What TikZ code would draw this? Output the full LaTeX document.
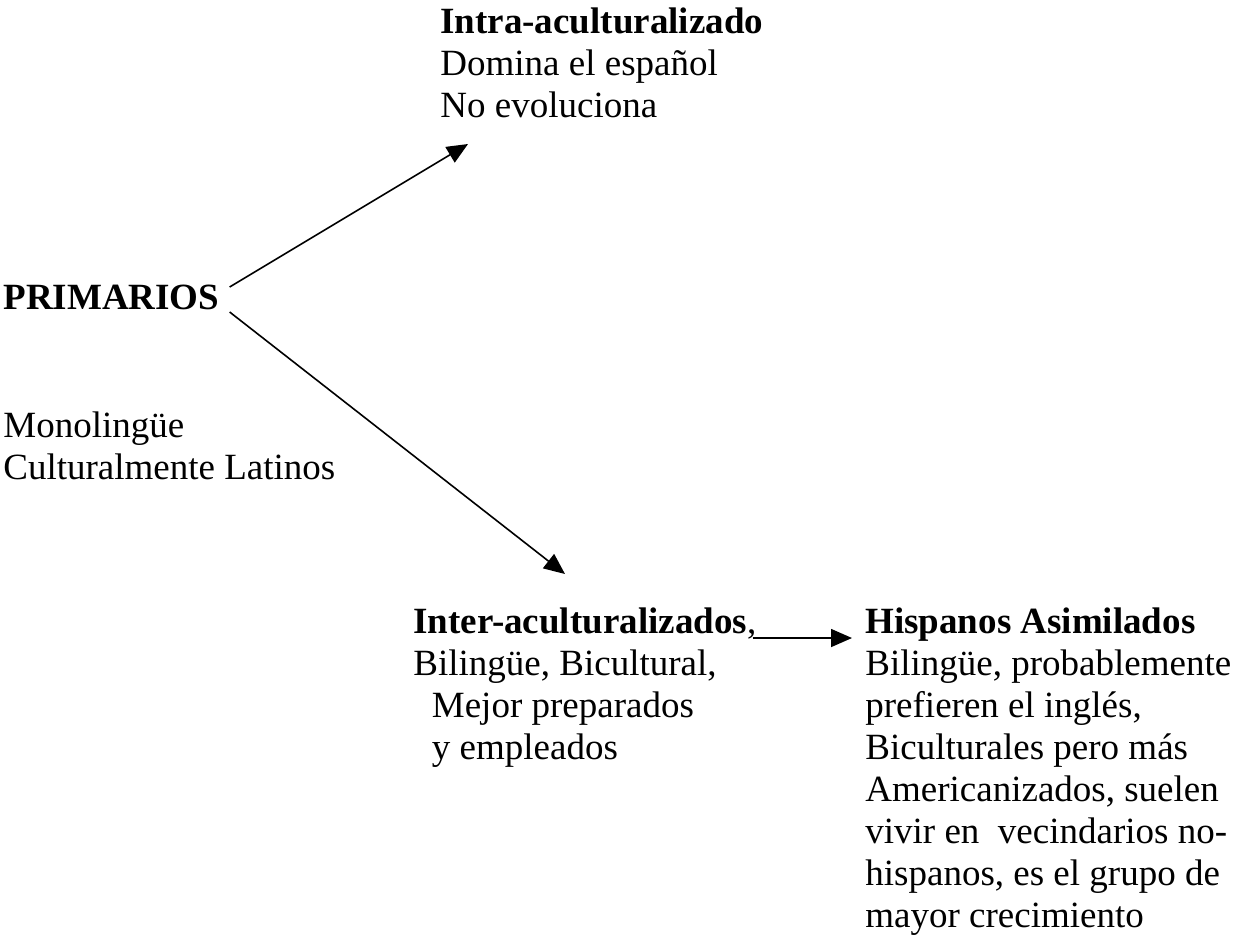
\documentclass[tikz,border=0pt]{standalone}
\usepackage{fontspec}
\setmainfont{Liberation Serif}
\usetikzlibrary{arrows.meta}
\newcommand{\groupfont}{\fontsize{18.5}{21}\selectfont}

\begin{document}
\begin{tikzpicture}[x=0.5pt, y=-0.5pt,
		txt/.style={inner sep=0, anchor=base west, align=left, font=\groupfont},
		arr/.style={-{Triangle[length=10.5pt, width=9pt]}, line width=0.8pt}]
		\useasboundingbox (0, 0) rectangle (1236, 943);
		% The starting group on the left (nodes sit on the baseline of their last line)
		\node [txt] (prim) at (3, 309) {\textbf{PRIMARIOS}};
		\node [txt] (mono) at (3, 479) {Monoling\"ue\\Culturalmente Latinos};
		% The group that keeps the language
		\node [txt] (intra) at (440, 117) {\textbf{Intra-aculturalizado}\\Domina el espa\~nol\\No evoluciona};
		% The bilingual group and the assimilated one
		\node [txt] (inter) at (413, 759) {\textbf{Inter-aculturalizados},\\Biling\"ue, Bicultural,\\\ \ Mejor preparados\\\ \ y empleados};
		\node [txt] (hisp) at (865, 927) {\textbf{Hispanos Asimilados}\\Biling\"ue, probablemente\\prefieren el ingl\'es,\\Biculturales pero m\'as\\Americanizados, suelen\\vivir en\ \ vecindarios no-\\hispanos, es el grupo de\\mayor crecimiento};
		% Arrows between the groups
		\draw [arr] ([shift={(10, -22)}]prim.base east) -- ([shift={(28, 27)}]intra.base west);
		\draw [arr] ([shift={(10, 3)}]prim.base east) -- ([shift={(152, -185)}]inter.base west);
		\draw [arr] ([shift={(-4, -121)}]inter.base east) -- ([shift={(-13, -289)}]hisp.base west);
\end{tikzpicture}
\end{document}
